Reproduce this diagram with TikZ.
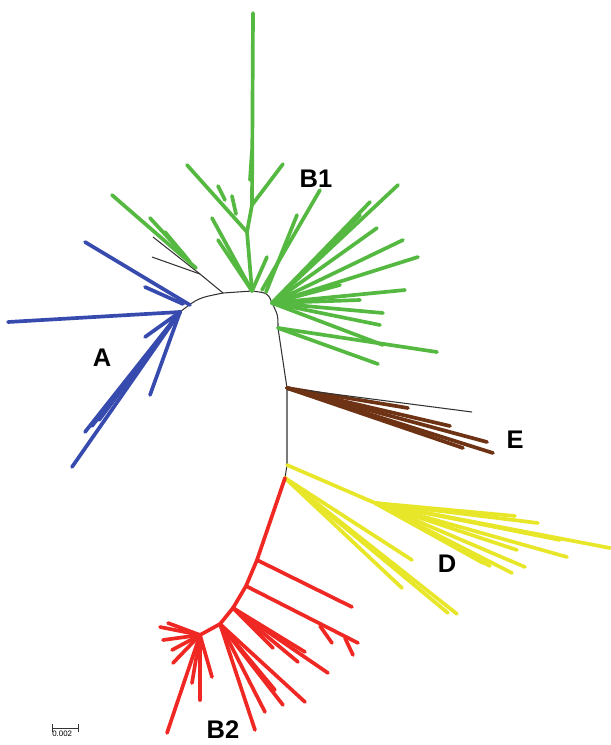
\documentclass[tikz,border=0pt]{standalone}
\usepackage{fontspec}
\setmainfont{Liberation Sans}
\usepackage{tikz}
\usetikzlibrary{positioning}

\definecolor{cladeA}{RGB}{55,75,175}
\definecolor{cladeB}{RGB}{85,185,65}
\definecolor{cladeR}{RGB}{240,40,35}
\definecolor{cladeD}{RGB}{232,230,40}
\definecolor{cladeE}{RGB}{110,50,20}

\begin{document}
\begin{tikzpicture}[x=0.02cm, y=-0.02cm,
  branch/.style={line width=2.1pt, line cap=round},
  stem/.style={line width=0.6pt, black!80},
  label/.style={font=\fontsize{14.5}{16}\selectfont\bfseries}]
  \useasboundingbox (0,0) rectangle (610,745);

  % backbone
  \coordinate (Ahub) at (180,312);
  \coordinate (Bk) at (223,293);
  \coordinate (B1hub) at (252,291);
  \coordinate (Bfan) at (272,303);
  \coordinate (Bfan2) at (278,328);
  \coordinate (Ehub) at (287,388);
  \coordinate (Dhub) at (287,465);
  \coordinate (Rhub) at (285,478);
  \draw[stem] (Ahub) .. controls (198,298) .. (Bk) -- (B1hub)
    .. controls (268,293) .. (Bfan) .. controls (278,315) .. (Bfan2) -- (Ehub) -- (Dhub) -- (Rhub);
  \coordinate (Bs) at (200,274);
  \draw[stem] (Bk) -- (Bs) -- (153,237);
  \draw[stem] (Bs) -- (152,257);

  % clade A
  \draw[branch, cladeA] (190,305) -- (85,242);
  \draw[branch, cladeA] (183,304) -- (145,287);
  \foreach \x/\y in {8/322, 72/467, 85/432, 92/426, 99/420, 150/395, 145/337}
    \draw[branch, cladeA] (Ahub) -- (\x,\y);

  % clade B1
  \coordinate (Gl) at (196,268);
  \draw[branch, cladeB] (Gl) -- (112,195);
  \draw[branch, cladeB] (185,256) -- (150,218);
  \draw[branch, cladeB] (190,262) -- (165,232);
  \coordinate (n1) at (247,232);
  \coordinate (n2) at (252,205);
  \draw[branch, cladeB] (B1hub) -- (n1) -- (n2) -- (253,13);
  \draw[branch, cladeB] (n2) -- (283,164);
  \draw[branch, cladeB] (n1) -- (187,165);
  \draw[branch, cladeB] (225,200) -- (218,186);
  \draw[branch, cladeB] (236,214) -- (232,196);
  \draw[branch, cladeB] (250,180) -- (252,150);
  \foreach \x/\y in {212/218, 218/240, 267/257}
    \draw[branch, cladeB] (B1hub) -- (\x,\y);
  \draw[branch, cladeB] (262,290) -- (320,190);
  \draw[branch, cladeB] (266,292) -- (297,215);
  \foreach \x/\y in {398/185, 370/202, 377/228, 360/215, 403/240, 418/257,
                     405/290, 383/313, 380/325, 383/345, 360/300, 340/285}
    \draw[branch, cladeB] (Bfan) -- (\x,\y);
  \foreach \x/\y in {437/352, 378/364}
    \draw[branch, cladeB] (Bfan2) -- (\x,\y);

  % clade E
  \draw[branch, cladeE] (Ehub) -- (408,408);
  \draw[stem] (Ehub) -- (472,412);
  \foreach \x/\y in {450/426, 487/442, 493/453, 463/448}
    \draw[branch, cladeE] (Ehub) -- (\x,\y);

  % clade D
  \coordinate (Dk) at (375,503);
  \draw[branch, cladeD] (Dhub) -- (Dk);
  \foreach \x/\y in {610/548, 538/523, 515/516, 560/540, 567/557, 517/550,
                     525/567, 512/573, 490/566, 483/563}
    \draw[branch, cladeD] (Dk) -- (\x,\y);
  \foreach \x/\y in {412/560, 402/588, 448/613, 457/614}
    \draw[branch, cladeD] (Rhub) -- (\x,\y);

  % clade B2
  \coordinate (R1) at (257,560);
  \coordinate (R2) at (246,586);
  \coordinate (R3) at (233,608);
  \coordinate (R4) at (220,624);
  \coordinate (R5) at (200,635);
  \draw[branch, cladeR] (Rhub) -- (R1) -- (R2) -- (R3) -- (R4) -- (R5);
  \draw[branch, cladeR] (R1) -- (352,607);
  \draw[branch, cladeR] (R2) -- (358,643);
  \draw[branch, cladeR] (320,626) -- (332,643);
  \draw[branch, cladeR] (345,638) -- (353,655);
  \foreach \x/\y in {305/652, 328/673, 273/648, 298/662}
    \draw[branch, cladeR] (R3) -- (\x,\y);
  \foreach \x/\y in {305/702, 265/712, 255/730, 283/705, 275/690}
    \draw[branch, cladeR] (R4) -- (\x,\y);
  \foreach \x/\y in {167/733, 200/700, 212/677, 192/683,
                     160/627, 168/623, 163/640, 172/650, 173/663}
    \draw[branch, cladeR] (R5) -- (\x,\y);

  % labels
  \node[label] (labA) at (102,358) {A};
  \node[label] (labB1) at (316,179) {B1};
  \node[label] (labE) at (515,440) {E};
  \node[label] (labD) at (447,564) {D};
  \node[label] (labB2) at (223,730) {B2};

  % scale bar
  \coordinate (sbl) at (52,728);
  \coordinate (sbr) at (78,728);
  \draw[stem, line width=0.5pt] (sbl) -- (sbr);
  \draw[stem, line width=0.5pt] ([yshift=-2.5pt]sbl) -- ([yshift=2.5pt]sbl);
  \draw[stem, line width=0.5pt] ([yshift=-2.5pt]sbr) -- ([yshift=2.5pt]sbr);
  \node[font=\fontsize{4.5}{5}\selectfont, inner sep=0pt, below=1.5pt of sbl, anchor=north west] (sblab) {0.002};
\end{tikzpicture}
\end{document}
